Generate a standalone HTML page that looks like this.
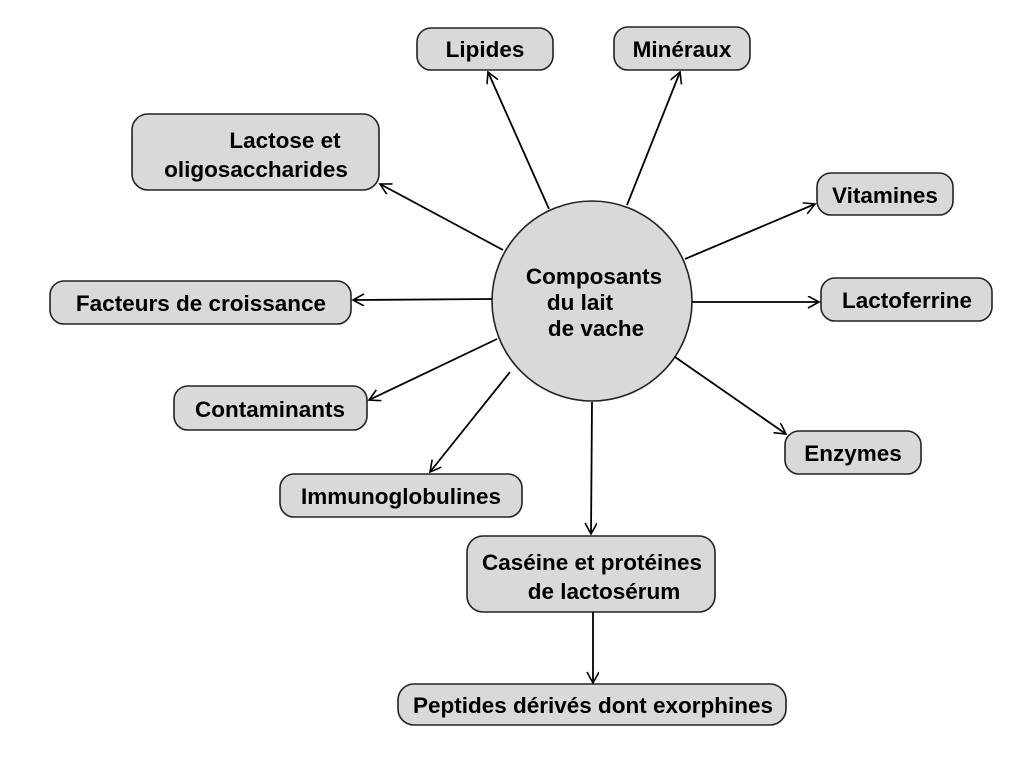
<!DOCTYPE html>
<html><head><meta charset="utf-8"><style>
html,body{margin:0;padding:0;background:#fff;}
svg{display:block;}
text{font-family:"Liberation Sans",Arial,sans-serif;font-weight:bold;font-size:22.5px;fill:#000;}
</style></head><body>
<svg width="1024" height="757" viewBox="0 0 1024 757" xmlns="http://www.w3.org/2000/svg">
<defs><marker id="a" markerWidth="14" markerHeight="14" refX="12" refY="6" orient="auto" markerUnits="userSpaceOnUse"><path d="M1,0 L12,6 L1,12" fill="none" stroke="#000" stroke-width="1.6"/></marker></defs>
<g fill="#d9d9d9" stroke="#222" stroke-width="1.6">
<rect x="417" y="28" width="136" height="42" rx="14"/>
<rect x="614" y="27" width="136" height="43" rx="14"/>
<rect x="132" y="114" width="247" height="76" rx="16"/>
<rect x="817" y="173" width="136" height="42" rx="14"/>
<rect x="50" y="281" width="301" height="43" rx="14"/>
<rect x="821" y="278" width="171" height="43" rx="14"/>
<rect x="174" y="386" width="193" height="44" rx="14"/>
<rect x="785" y="431" width="136" height="43" rx="14"/>
<rect x="280" y="474" width="242" height="43" rx="14"/>
<rect x="467" y="536" width="248" height="76" rx="16"/>
<rect x="398" y="684" width="388" height="41" rx="16"/>
<circle cx="592" cy="301" r="100"/>
</g>
<g stroke="#000" stroke-width="1.8" fill="none" marker-end="url(#a)">
<line x1="549" y1="209" x2="488" y2="72"/>
<line x1="627" y1="205" x2="680" y2="72"/>
<line x1="503" y1="250" x2="380" y2="184"/>
<line x1="685" y1="259" x2="815" y2="204"/>
<line x1="492" y1="299" x2="353" y2="300"/>
<line x1="692" y1="302" x2="819" y2="302"/>
<line x1="497" y1="339" x2="369" y2="400"/>
<line x1="675" y1="357" x2="786" y2="434"/>
<line x1="510" y1="372" x2="430" y2="472"/>
<line x1="592" y1="402" x2="591" y2="534"/>
<line x1="593" y1="612" x2="593" y2="683"/>
</g>
<text x="485" y="57" text-anchor="middle">Lipides</text>
<text x="682" y="57" text-anchor="middle">Minéraux</text>
<text x="285" y="148" text-anchor="middle">Lactose et</text>
<text x="256" y="177" text-anchor="middle">oligosaccharides</text>
<text x="885" y="203" text-anchor="middle">Vitamines</text>
<text x="201" y="311" text-anchor="middle">Facteurs de croissance</text>
<text x="907" y="308" text-anchor="middle">Lactoferrine</text>
<text x="270" y="417" text-anchor="middle">Contaminants</text>
<text x="853" y="461" text-anchor="middle">Enzymes</text>
<text x="401" y="504" text-anchor="middle">Immunoglobulines</text>
<text x="592" y="570" text-anchor="middle">Caséine et protéines</text>
<text x="604" y="599" text-anchor="middle">de lactosérum</text>
<text x="593" y="713" text-anchor="middle">Peptides dérivés dont exorphines</text>
<text x="594" y="284" text-anchor="middle">Composants</text>
<text x="580" y="310" text-anchor="middle">du lait</text>
<text x="596" y="336" text-anchor="middle">de vache</text>
</svg>
</body></html>
